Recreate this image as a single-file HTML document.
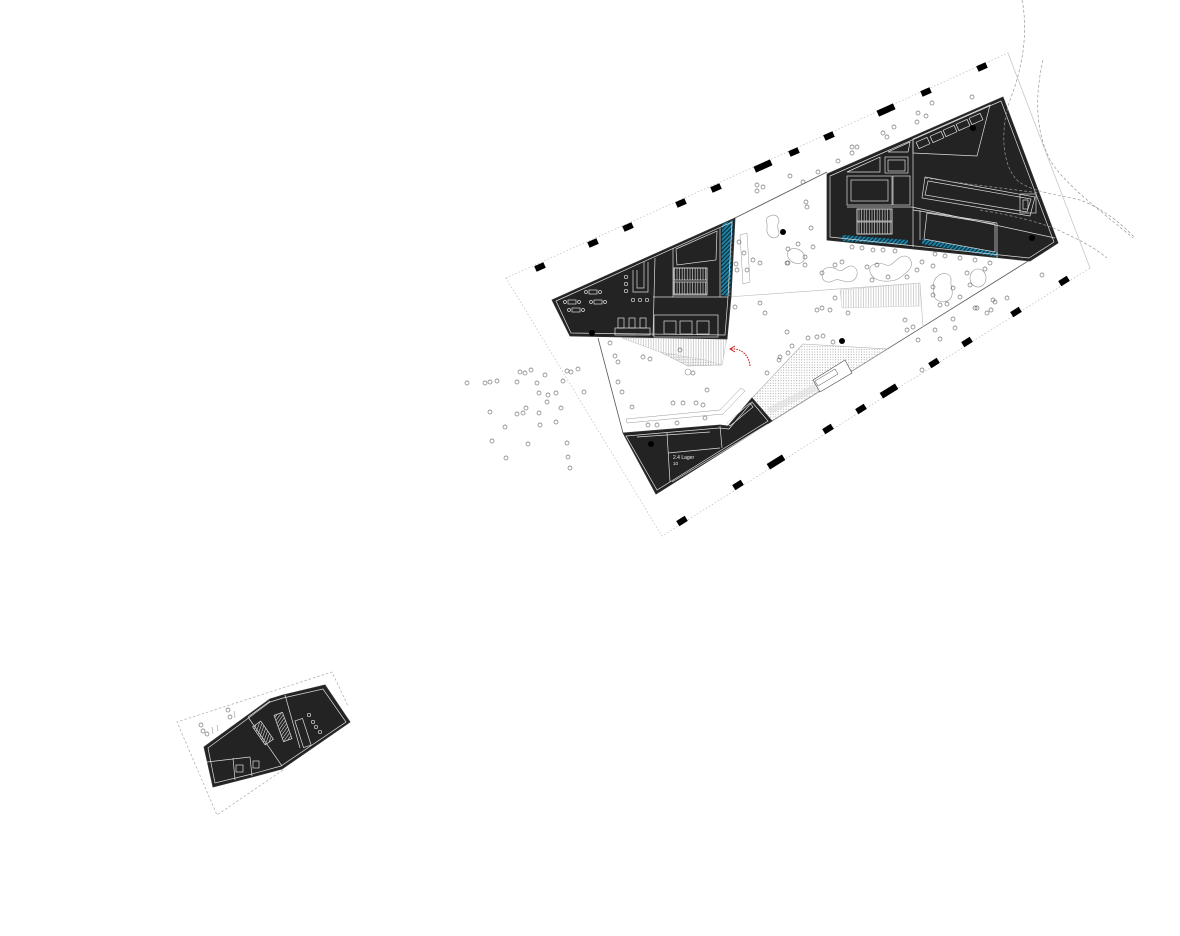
<!DOCTYPE html>
<html><head><meta charset="utf-8"><style>
html,body{margin:0;padding:0;background:#fff;}
svg{display:block}
</style></head><body>
<svg width="1180" height="936" viewBox="0 0 1180 936" xmlns="http://www.w3.org/2000/svg">
<defs>
<pattern id="dots" width="2.6" height="2.6" patternUnits="userSpaceOnUse"><circle cx="1" cy="1" r="0.5" fill="#888"/></pattern>
<pattern id="blue" width="3" height="3" patternUnits="userSpaceOnUse" patternTransform="rotate(45)"><rect width="3" height="3" fill="#1f84a6"/><line x1="0.5" y1="0" x2="0.5" y2="3" stroke="#0b2a36" stroke-width="1.3"/></pattern>
<pattern id="vhatch" width="2.5" height="4" patternUnits="userSpaceOnUse"><line x1="1" y1="0" x2="1" y2="4" stroke="#aaa" stroke-width="0.5"/></pattern>
<pattern id="wv" width="2.6" height="4" patternUnits="userSpaceOnUse"><line x1="1" y1="0" x2="1" y2="4" stroke="#ddd" stroke-width="0.6"/></pattern>
<pattern id="wv2" width="2.6" height="4" patternUnits="userSpaceOnUse" patternTransform="rotate(55)"><line x1="1" y1="0" x2="1" y2="4" stroke="#ddd" stroke-width="0.6"/></pattern>
</defs>

<!-- site boundary -->
<polygon points="506,278 1008,53 1090,268 662,536" fill="none" stroke="#bbb" stroke-width="0.7" stroke-dasharray="1.5,2"/>
<line x1="1008" y1="53" x2="1090" y2="268" stroke="#ccc" stroke-width="0.8"/>

<!-- dashes top -->
<g fill="#000">
<rect x="-5" y="-3" width="10" height="6" transform="translate(540,267) rotate(-24)"/>
<rect x="-5" y="-3" width="10" height="6" transform="translate(593,243) rotate(-24)"/>
<rect x="-5" y="-3" width="10" height="6" transform="translate(628,227) rotate(-24)"/>
<rect x="-5" y="-3" width="10" height="6" transform="translate(681,203) rotate(-24)"/>
<rect x="-5" y="-3" width="10" height="6" transform="translate(716,188) rotate(-24)"/>
<rect x="-9" y="-3.2" width="18" height="6.4" transform="translate(763,166) rotate(-24)"/>
<rect x="-5" y="-3" width="10" height="6" transform="translate(794,152) rotate(-24)"/>
<rect x="-5" y="-3" width="10" height="6" transform="translate(829,136) rotate(-24)"/>
<rect x="-9" y="-3.2" width="18" height="6.4" transform="translate(886,110) rotate(-24)"/>
<rect x="-5" y="-3" width="10" height="6" transform="translate(926,92) rotate(-24)"/>
<rect x="-5" y="-3" width="10" height="6" transform="translate(982,67) rotate(-24)"/>
<!-- bottom -->
<rect x="-5" y="-3" width="10" height="6" transform="translate(1064,281) rotate(-32)"/>
<rect x="-5" y="-3" width="10" height="6" transform="translate(1016,312) rotate(-32)"/>
<rect x="-5" y="-3" width="10" height="6" transform="translate(967,342) rotate(-32)"/>
<rect x="-5" y="-3" width="10" height="6" transform="translate(934,363) rotate(-32)"/>
<rect x="-9" y="-3.2" width="18" height="6.4" transform="translate(889,391) rotate(-32)"/>
<rect x="-5" y="-3" width="10" height="6" transform="translate(861,409) rotate(-32)"/>
<rect x="-5" y="-3" width="10" height="6" transform="translate(828,429) rotate(-32)"/>
<rect x="-9" y="-3.2" width="18" height="6.4" transform="translate(776,462) rotate(-32)"/>
<rect x="-5" y="-3" width="10" height="6" transform="translate(738,485) rotate(-32)"/>
<rect x="-5" y="-3" width="10" height="6" transform="translate(682,521) rotate(-32)"/>
</g>

<!-- site lines -->
<g stroke="#555" stroke-width="0.8" fill="none">
<line x1="735" y1="218" x2="827" y2="172"/>
<line x1="772" y1="421" x2="1057" y2="243"/>
<line x1="598" y1="338" x2="623" y2="433"/>
</g>
<g stroke="#bbb" stroke-width="0.6" fill="none">
<line x1="728" y1="297" x2="920" y2="283"/>
<line x1="920" y1="283" x2="923" y2="327"/>
</g>

<!-- dotted plaza region -->
<polygon points="752,398 803,344 887,349 772,421" fill="url(#dots)" stroke="#aaa" stroke-width="0.6"/>
<polygon points="767,408 822,380 826,386 771,414" fill="#ddd" opacity="0.6"/>
<polygon points="813,380 845,360 852,373 820,392" fill="#fff" stroke="#444" stroke-width="0.6"/>
<polygon points="815,381 835,369 838,374 818,386" fill="none" stroke="#444" stroke-width="0.5"/>

<!-- hatched stair in park -->
<polygon points="840,290 920,283 920,306 842,308" fill="url(#vhatch)" stroke="#ccc" stroke-width="0.5"/>
<!-- hatched under west block -->
<polygon points="622,338 727,338 722,365 688,366 660,352" fill="url(#vhatch)" stroke="#bbb" stroke-width="0.5"/>
<polygon points="660,352 688,366 722,365 705,360" fill="url(#dots)" stroke="#bbb" stroke-width="0.4"/>

<!-- benches -->
<polygon points="626,419 720,410 741,388 745,391 723,414 627,423" fill="#fff" stroke="#999" stroke-width="0.5"/>
<polygon points="740,235 747,233 750,282 743,284" fill="#fff" stroke="#999" stroke-width="0.5"/>

<!-- blobs -->
<g fill="none" stroke="#999" stroke-width="0.6">
<path d="M770,216 C776,213 781,218 778,224 C776,229 782,233 777,237 C771,240 766,234 767,228 C768,223 764,218 770,216 Z"/>
<ellipse cx="796" cy="256" rx="9" ry="7" transform="rotate(30 796 256)"/>
<path d="M822,275 C822,266 832,266 838,270 C843,273 846,265 852,266 C859,268 859,278 852,281 C845,284 840,278 835,280 C828,284 822,282 822,275 Z"/>
<path d="M870,272 C868,263 880,262 886,265 C892,268 896,257 904,256 C912,256 914,266 908,271 C902,276 900,280 890,281 C880,282 872,279 870,272 Z"/>
<path d="M938,276 C944,271 952,274 951,281 C950,287 955,293 950,299 C945,304 935,302 934,295 C933,288 932,280 938,276 Z"/>
<ellipse cx="978" cy="278" rx="8" ry="9"/>
<circle cx="688" cy="372" r="3"/>
</g>

<!-- WEST BLOCK -->
<polygon points="552,300 735,218 731,297 727,339 570,336" fill="#232323" stroke="#333" stroke-width="0.8"/>
<polygon points="722,224 733,220 730,296 721,295" fill="url(#blue)"/>
<g stroke="#ddd" stroke-width="0.7" fill="none">
<polygon points="556,301 732,222 728,297 725,335 571,333"/>
<line x1="655" y1="258" x2="653" y2="336"/>
<line x1="673" y1="248" x2="673" y2="297"/>
<line x1="653" y1="297" x2="728" y2="297"/>
<line x1="720" y1="228" x2="720" y2="297"/>
<polygon points="676,249 717,231 716,260 677,265"/>
<rect x="674" y="268" width="33" height="27"/>
<rect x="674" y="268" width="33" height="12" fill="url(#wv)"/>
<rect x="674" y="282" width="33" height="12" fill="url(#wv)"/>
<rect x="654" y="315" width="64" height="22"/>
<rect x="664" y="321" width="12" height="13"/>
<rect x="680" y="321" width="12" height="13"/>
<rect x="697" y="321" width="12" height="13"/>
<rect x="615" y="328" width="35" height="7"/>
<rect x="618" y="318" width="6" height="10"/>
<rect x="629" y="318" width="6" height="10"/>
<rect x="640" y="318" width="6" height="10"/>
<circle cx="626" cy="277" r="1.7"/>
<circle cx="626" cy="284" r="1.7"/>
<circle cx="626" cy="291" r="1.7"/>
<circle cx="633" cy="300" r="1.7"/>
<circle cx="640" cy="300" r="1.7"/>
<circle cx="647" cy="300" r="1.7"/>
<path d="M633,270 L633,292 L648,292 L648,262 M637,270 L637,288 L644,288 L644,262"/>
<rect x="568" y="300" width="8" height="4"/><circle cx="565" cy="302" r="1.5"/><circle cx="579" cy="302" r="1.5"/>
<rect x="589" y="290" width="8" height="4"/><circle cx="586" cy="292" r="1.5"/><circle cx="600" cy="292" r="1.5"/>
<rect x="572" y="308" width="8" height="4"/><circle cx="569" cy="310" r="1.5"/><circle cx="583" cy="310" r="1.5"/>
<rect x="594" y="300" width="8" height="4"/><circle cx="591" cy="302" r="1.5"/><circle cx="605" cy="302" r="1.5"/>
</g>

<!-- EAST BLOCK -->
<polygon points="827,174 1003,97 1058,243 1030,261 827,240" fill="#232323" stroke="#333" stroke-width="0.8"/>
<polygon points="842,235 908,240 908,245 842,241" fill="url(#blue)"/>
<polygon points="922,239 998,252 998,257 922,244" fill="url(#blue)"/>
<g stroke="#ddd" stroke-width="0.7" fill="none">
<polygon points="830,176 1001,101 1054,242 1029,258 830,237"/>
<polygon points="913,153 913,139 990,105 977,156"/>
<rect x="-6" y="-3.5" width="12" height="7" transform="translate(923,143) rotate(-24)"/>
<rect x="-6" y="-3.5" width="12" height="7" transform="translate(937,137) rotate(-24)"/>
<rect x="-6" y="-3.5" width="12" height="7" transform="translate(950,131) rotate(-24)"/>
<rect x="-6" y="-3.5" width="12" height="7" transform="translate(963,125) rotate(-24)"/>
<rect x="-6" y="-3.5" width="12" height="7" transform="translate(976,119) rotate(-24)"/>
<polygon points="847,172 880,157 880,172"/>
<polygon points="888,152 910,142 908,152"/>
<rect x="885" y="157" width="23" height="16"/>
<rect x="888" y="160" width="17" height="11"/>
<rect x="847" y="176" width="45" height="29"/>
<rect x="851" y="180" width="37" height="21"/>
<rect x="893" y="176" width="17" height="29"/>
<line x1="847" y1="207" x2="912" y2="207"/>
<rect x="857" y="209" width="35" height="25"/>
<rect x="857" y="209" width="35" height="12" fill="url(#wv)"/>
<rect x="857" y="222" width="35" height="12" fill="url(#wv)"/>
<line x1="913" y1="139" x2="913" y2="247"/>
<polygon points="925,177 1035,197 1030,216 922,198"/>
<polygon points="928,181 1031,199 1027,212 925,195"/>
<rect x="1020" y="194" width="16" height="19"/>
<rect x="1023" y="200" width="5" height="9"/>
<line x1="912" y1="207" x2="1055" y2="238"/>
<line x1="913" y1="210" x2="997" y2="223"/>
<polygon points="927,213 995,224 995,252 924,239"/>
<line x1="920" y1="210" x2="920" y2="240"/>
<line x1="997" y1="223" x2="997" y2="258"/>
</g>

<!-- SOUTH BLOCK -->
<polygon points="623,433 720,425 728,426 752,398 772,421 656,494" fill="#232323" stroke="#333" stroke-width="0.8"/>
<g stroke="#ddd" stroke-width="0.7" fill="none">
<polygon points="626,436 719,428 729,429 752,402 768,421 657,490"/>
<line x1="637" y1="437" x2="710" y2="432"/>
<line x1="667" y1="433" x2="670" y2="482"/>
<line x1="668" y1="453" x2="720" y2="448"/>
<line x1="720" y1="426" x2="722" y2="448"/>
<line x1="672" y1="482" x2="768" y2="424"/>
<polygon points="727,423 750,403 753,407 730,426"/>
</g>
<text x="673" y="459" font-family="Liberation Sans, sans-serif" font-size="5" fill="#eee">2.4 Lager</text>
<text x="673" y="465" font-family="Liberation Sans, sans-serif" font-size="4.5" fill="#eee">10</text>

<!-- black dots -->
<g fill="#000">
<circle cx="783" cy="232" r="3"/>
<circle cx="973" cy="128" r="3"/>
<circle cx="1032" cy="238" r="3"/>
<circle cx="842" cy="341" r="3"/>
<circle cx="592" cy="333" r="3"/>
<circle cx="651" cy="444" r="3"/>
</g>

<!-- dashed curves top right -->
<g fill="none" stroke="#999" stroke-width="0.7" stroke-dasharray="3,2">
<path d="M1022,0 C1030,40 1018,80 1010,100 C1000,130 1002,165 1017,180 C1030,192 1060,195 1080,200 C1100,207 1120,222 1135,238"/>
<path d="M1043,60 C1035,95 1035,130 1050,160 C1065,185 1100,210 1133,238"/>
<path d="M980,210 C1010,215 1040,222 1058,230 C1080,240 1095,248 1107,258"/>
<path d="M925,178 C960,183 1000,188 1040,193"/>
</g>

<!-- red arrow -->
<path d="M750,366 C749,356 742,348 731,349" fill="none" stroke="#d42020" stroke-width="1.1" stroke-dasharray="1.6,1.1"/>
<polyline points="735,346 730,349 735,352" fill="none" stroke="#d42020" stroke-width="1"/>

<!-- trees -->
<g fill="none" stroke="#6e6e6e" stroke-width="0.65">
<circle cx="467" cy="383" r="2"/><circle cx="485" cy="383" r="2"/><circle cx="490" cy="382" r="2"/><circle cx="497" cy="381" r="2"/><circle cx="517" cy="382" r="2"/><circle cx="520" cy="372" r="2"/><circle cx="525" cy="373" r="2"/><circle cx="531" cy="370" r="2"/><circle cx="545" cy="375" r="2"/><circle cx="537" cy="383" r="2"/><circle cx="567" cy="371" r="2"/><circle cx="571" cy="372" r="2"/><circle cx="578" cy="369" r="2"/><circle cx="563" cy="381" r="2"/><circle cx="539" cy="393" r="2"/><circle cx="548" cy="395" r="2"/><circle cx="556" cy="393" r="2"/><circle cx="547" cy="402" r="2"/><circle cx="584" cy="392" r="2"/><circle cx="490" cy="412" r="2"/><circle cx="517" cy="414" r="2"/><circle cx="523" cy="413" r="2"/><circle cx="526" cy="408" r="2"/><circle cx="539" cy="413" r="2"/><circle cx="561" cy="408" r="2"/><circle cx="505" cy="427" r="2"/><circle cx="540" cy="425" r="2"/><circle cx="556" cy="422" r="2"/><circle cx="492" cy="441" r="2"/><circle cx="528" cy="444" r="2"/><circle cx="567" cy="443" r="2"/><circle cx="506" cy="458" r="2"/><circle cx="568" cy="457" r="2"/><circle cx="570" cy="468" r="2"/>
<circle cx="757" cy="185" r="2"/><circle cx="763" cy="187" r="2"/><circle cx="757" cy="191" r="2"/><circle cx="790" cy="176" r="2"/><circle cx="803" cy="182" r="2"/><circle cx="818" cy="172" r="2"/><circle cx="838" cy="161" r="2"/><circle cx="852" cy="147" r="2"/><circle cx="857" cy="147" r="2"/><circle cx="852" cy="153" r="2"/><circle cx="883" cy="133" r="2"/><circle cx="887" cy="137" r="2"/><circle cx="894" cy="127" r="2"/><circle cx="918" cy="113" r="2"/><circle cx="917" cy="122" r="2"/><circle cx="926" cy="116" r="2"/><circle cx="932" cy="103" r="2"/><circle cx="972" cy="97" r="2"/>
<circle cx="806" cy="202" r="2"/><circle cx="807" cy="207" r="2"/><circle cx="811" cy="228" r="2"/><circle cx="739" cy="242" r="2"/><circle cx="744" cy="253" r="2"/><circle cx="753" cy="260" r="2"/><circle cx="760" cy="263" r="2"/><circle cx="737" cy="270" r="2"/><circle cx="747" cy="270" r="2"/><circle cx="788" cy="249" r="2"/><circle cx="798" cy="244" r="2"/><circle cx="805" cy="257" r="2"/><circle cx="813" cy="247" r="2"/><circle cx="788" cy="263" r="2"/><circle cx="805" cy="265" r="2"/>
<circle cx="852" cy="247" r="2"/><circle cx="862" cy="248" r="2"/><circle cx="873" cy="250" r="2"/><circle cx="883" cy="250" r="2"/><circle cx="895" cy="251" r="2"/><circle cx="935" cy="254" r="2"/><circle cx="945" cy="256" r="2"/><circle cx="960" cy="258" r="2"/><circle cx="975" cy="260" r="2"/><circle cx="990" cy="263" r="2"/>
<circle cx="842" cy="262" r="2"/><circle cx="835" cy="265" r="2"/><circle cx="822" cy="273" r="2"/><circle cx="867" cy="267" r="2"/><circle cx="877" cy="265" r="2"/><circle cx="872" cy="280" r="2"/><circle cx="888" cy="277" r="2"/><circle cx="907" cy="277" r="2"/><circle cx="917" cy="270" r="2"/><circle cx="922" cy="262" r="2"/><circle cx="933" cy="266" r="2"/><circle cx="967" cy="273" r="2"/><circle cx="985" cy="269" r="2"/><circle cx="970" cy="285" r="2"/><circle cx="933" cy="287" r="2"/><circle cx="953" cy="288" r="2"/><circle cx="933" cy="295" r="2"/><circle cx="940" cy="305" r="2"/><circle cx="947" cy="304" r="2"/><circle cx="960" cy="297" r="2"/><circle cx="993" cy="300" r="2"/><circle cx="1007" cy="298" r="2"/><circle cx="977" cy="308" r="2"/><circle cx="987" cy="313" r="2"/>
<circle cx="735" cy="307" r="2"/><circle cx="760" cy="303" r="2"/><circle cx="765" cy="313" r="2"/><circle cx="817" cy="310" r="2"/><circle cx="822" cy="308" r="2"/><circle cx="830" cy="310" r="2"/><circle cx="848" cy="313" r="2"/><circle cx="835" cy="298" r="2"/><circle cx="905" cy="320" r="2"/><circle cx="913" cy="327" r="2"/><circle cx="907" cy="330" r="2"/><circle cx="787" cy="332" r="2"/><circle cx="808" cy="338" r="2"/><circle cx="817" cy="337" r="2"/><circle cx="823" cy="336" r="2"/><circle cx="833" cy="342" r="2"/><circle cx="792" cy="346" r="2"/><circle cx="788" cy="353" r="2"/><circle cx="780" cy="357" r="2"/><circle cx="918" cy="340" r="2"/><circle cx="935" cy="330" r="2"/><circle cx="940" cy="339" r="2"/><circle cx="955" cy="328" r="2"/><circle cx="953" cy="319" r="2"/><circle cx="975" cy="308" r="2"/><circle cx="991" cy="310" r="2"/><circle cx="995" cy="302" r="2"/><circle cx="1042" cy="275" r="2"/><circle cx="922" cy="370" r="2"/><circle cx="767" cy="373" r="2"/><circle cx="779" cy="360" r="2"/><circle cx="736" cy="264" r="2"/><circle cx="787" cy="263" r="2"/>
<circle cx="610" cy="343" r="2"/><circle cx="615" cy="356" r="2"/><circle cx="618" cy="362" r="2"/><circle cx="643" cy="357" r="2"/><circle cx="650" cy="359" r="2"/><circle cx="680" cy="350" r="2"/><circle cx="693" cy="373" r="2"/><circle cx="618" cy="382" r="2"/><circle cx="622" cy="392" r="2"/><circle cx="632" cy="407" r="2"/><circle cx="707" cy="390" r="2"/><circle cx="673" cy="403" r="2"/><circle cx="683" cy="403" r="2"/><circle cx="696" cy="403" r="2"/><circle cx="703" cy="405" r="2"/><circle cx="705" cy="418" r="2"/><circle cx="648" cy="425" r="2"/><circle cx="657" cy="425" r="2"/><circle cx="677" cy="423" r="2"/>
<circle cx="201" cy="725" r="2"/><circle cx="203" cy="731" r="2"/><circle cx="207" cy="734" r="2"/><circle cx="228" cy="710" r="2"/><circle cx="230" cy="717" r="2"/>
</g>

<!-- ANNEX -->
<polyline points="283,770 217,815 177,722 332,672 348,706" fill="none" stroke="#aaa" stroke-width="0.7" stroke-dasharray="2.5,2"/>
<g stroke="#999" stroke-width="0.6">
<line x1="212" y1="727" x2="213" y2="734"/>
<line x1="217" y1="725" x2="218" y2="731"/>
<line x1="234" y1="711" x2="235" y2="718"/>
</g>
<polygon points="204,747 270,699 283,695 325,685 350,722 282,769 252,777 213,787" fill="#232323" stroke="#333" stroke-width="0.8"/>
<g stroke="#ddd" stroke-width="0.7" fill="none">
<polygon points="208,748 270,702 283,698 323,689 346,722 281,766 252,774 215,783"/>
<line x1="248" y1="717" x2="282" y2="766"/>
<line x1="285" y1="695" x2="300" y2="748"/>
<line x1="270" y1="701" x2="248" y2="717"/>
<rect x="-5" y="-11" width="10" height="22" transform="translate(263,733) rotate(-35)" fill="url(#wv2)"/>
<rect x="-4.5" y="-14" width="9" height="28" transform="translate(283,727) rotate(-20)" fill="url(#wv2)"/>
<line x1="207" y1="762" x2="250" y2="757"/>
<line x1="233" y1="758" x2="235" y2="780"/>
<line x1="250" y1="757" x2="252" y2="776"/>
<rect x="236" y="765" width="7" height="7"/>
<rect x="253" y="761" width="6" height="7"/>
<rect x="-4" y="-14" width="8" height="28" transform="translate(303,733) rotate(-18)"/>
<circle cx="309" cy="715" r="1.7"/><circle cx="313" cy="722" r="1.7"/><circle cx="316" cy="727" r="1.7"/><circle cx="320" cy="732" r="1.7"/>
</g>
</svg>
</body></html>
